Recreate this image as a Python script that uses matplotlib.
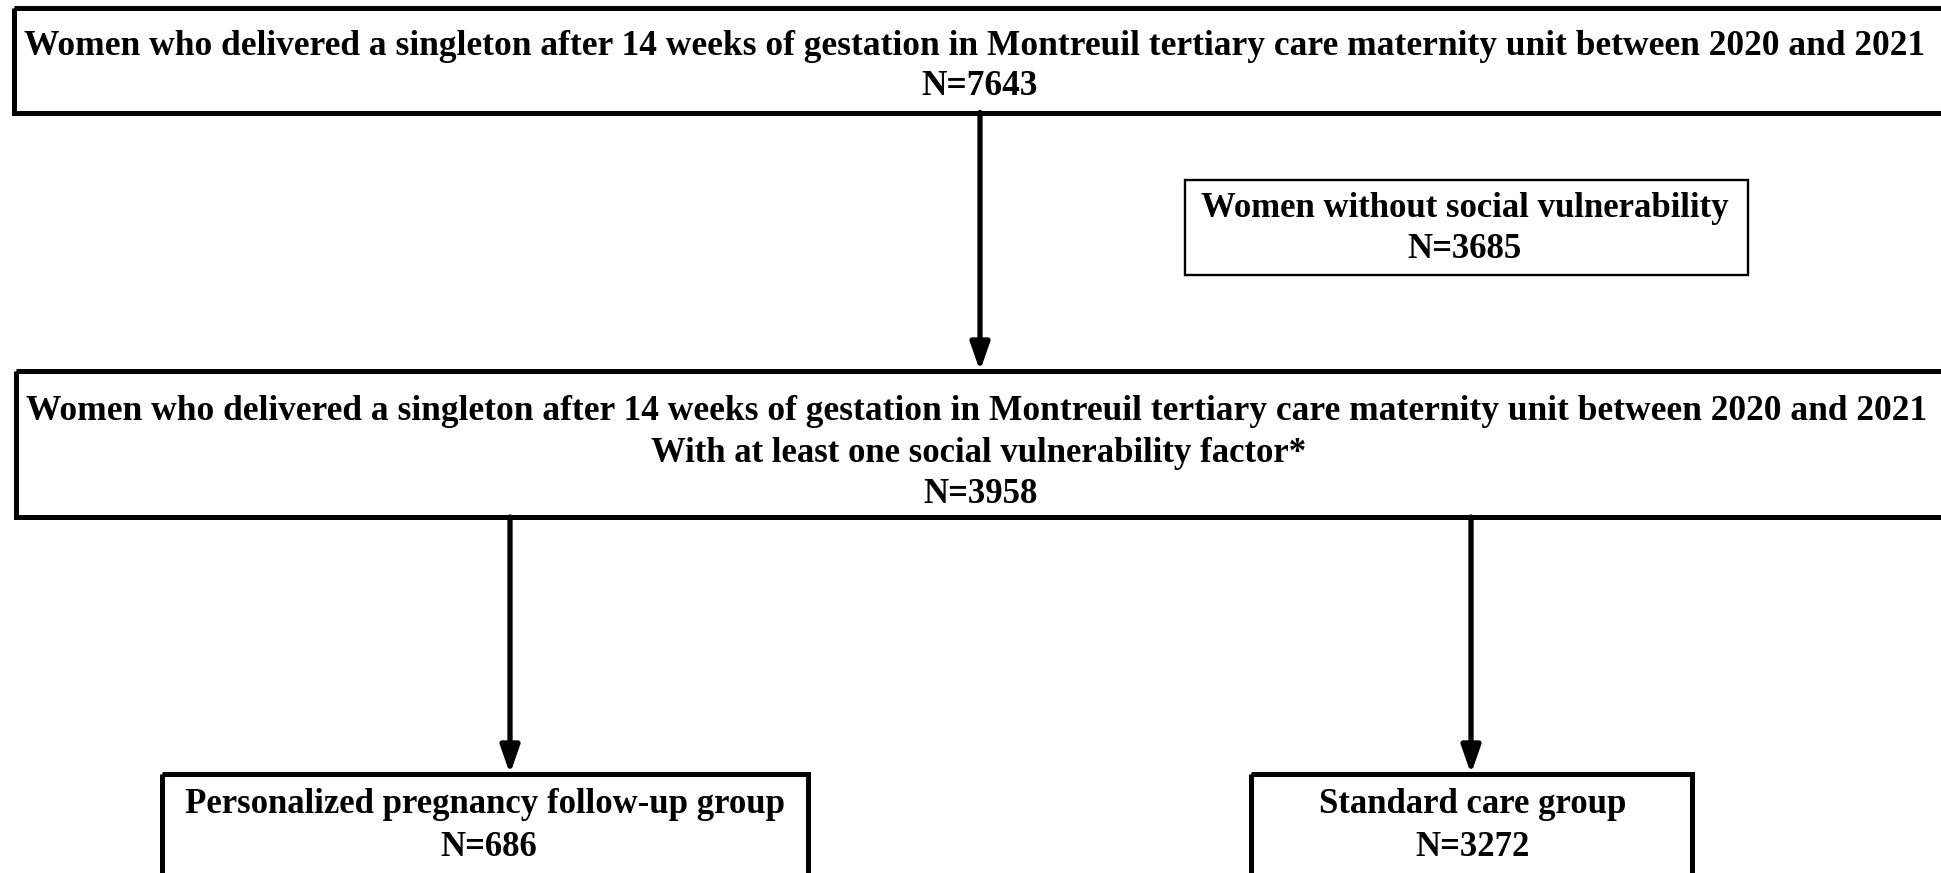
import matplotlib.pyplot as plt
from matplotlib.patches import Rectangle

# box texts (one entry per line)
top_lines = ["Women who delivered a singleton after 14 weeks of gestation in Montreuil tertiary care maternity unit between 2020 and 2021",
             "N=7643"]
excl_lines = ["Women without social vulnerability", "N=3685"]
mid_lines = ["Women who delivered a singleton after 14 weeks of gestation in Montreuil tertiary care maternity unit between 2020 and 2021",
             "With at least one social vulnerability factor*",
             "N=3958"]
left_lines = ["Personalized pregnancy follow-up group", "N=686"]
right_lines = ["Standard care group", "N=3272"]

W, H = 1941, 873
fig = plt.figure(figsize=(W / 100, H / 100), dpi=100)
ax = fig.add_axes([0, 0, 1, 1])
ax.set_xlim(0, W)
ax.set_ylim(H, 0)
ax.axis('off')

def box(x0, y0, x1, y1, lw):
    ax.add_patch(Rectangle((x0, y0), x1 - x0, y1 - y0, fill=False, lw=lw, ec='black'))

def write(lines, xs, ys, size=25):
    for t, x, y in zip(lines, xs, ys):
        ax.text(x, y, t, family='Liberation Serif', fontweight='bold', fontsize=size,
                color='black', ha='center', va='baseline')

def arrow(x, y0, y1):
    ax.annotate('', xy=(x, y1), xytext=(x, y0),
                arrowprops=dict(arrowstyle='-|>,head_length=0.46,head_width=0.16',
                                lw=3.8, color='black', mutation_scale=36,
                                shrinkA=0, shrinkB=0))

# top box
box(14, 7.5, 1960, 112.5, 3.6)
write(top_lines, [975, 980], [55, 95], size=25.5)

# exclusion box
box(1185, 180, 1748, 274.5, 1.7)
write(excl_lines, [1465, 1465], [217, 258])

# middle box
box(15.5, 371, 1960, 517, 3.6)
write(mid_lines[:1], [977], [420], size=25.5)
write(mid_lines[1:], [979, 981], [462, 503])

# bottom boxes
box(162, 774, 808, 920, 3.6)
write(left_lines, [485, 489], [813, 856])
box(1251, 774, 1692, 920, 3.6)
write(right_lines, [1473, 1473], [813, 856])

# arrows
arrow(980, 112.5, 371)
arrow(510, 517, 774)
arrow(1471, 517, 774)

fig.savefig('out.png', dpi=100, facecolor='white')
